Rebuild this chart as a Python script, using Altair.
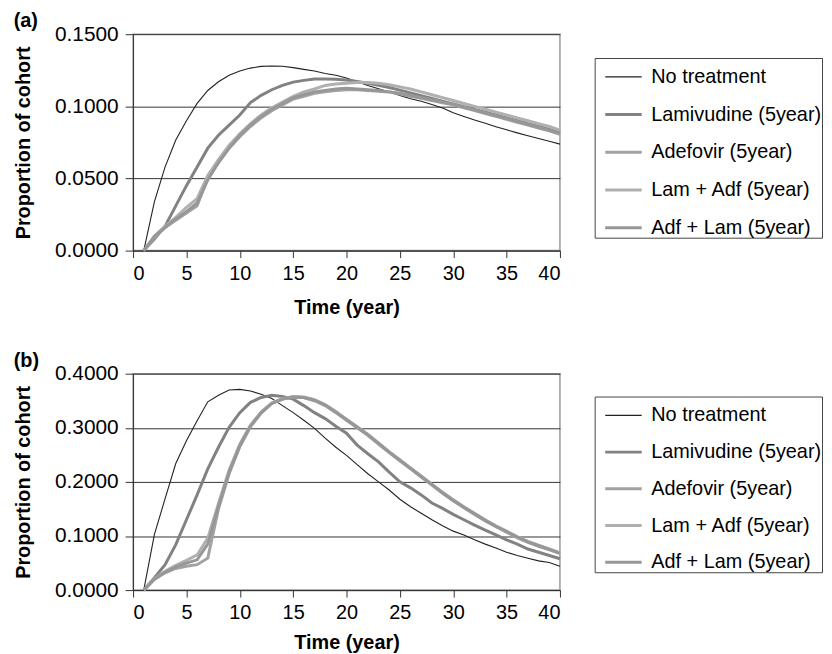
import altair as alt
import pandas as pd

years = list(range(1, 41))
series_names = ["No treatment", "Lamivudine (5year)", "Adefovir (5year)",
                "Lam + Adf (5year)", "Adf + Lam (5year)"]

# Panel (a)
nt_a = [0, 0.034, 0.058, 0.0766, 0.090, 0.102, 0.111, 0.117, 0.1215, 0.1245,
        0.1265, 0.1277, 0.1280, 0.1278, 0.1268, 0.1256, 0.1245, 0.1228, 0.1215, 0.1196,
        0.1170, 0.1145, 0.1122, 0.1099, 0.1076, 0.1053, 0.1035, 0.1012, 0.0989, 0.0955,
        0.0930, 0.0905, 0.0882, 0.0859, 0.0837, 0.0816, 0.0796, 0.0777, 0.0758, 0.0738]
lam_a = [0, 0.008, 0.017, 0.031, 0.045, 0.058, 0.071, 0.080, 0.087, 0.094,
         0.1026, 0.1076, 0.1115, 0.1145, 0.1168, 0.1180, 0.1189, 0.1190, 0.1188, 0.1182,
         0.1172, 0.1160, 0.1146, 0.1130, 0.1112, 0.1093, 0.1074, 0.1055, 0.1036, 0.1017,
         0.0998, 0.0979, 0.0960, 0.0940, 0.0920, 0.0900, 0.0880, 0.0860, 0.0840, 0.0815]
ade_a = [0, 0.009, 0.016, 0.021, 0.026, 0.031, 0.050, 0.061, 0.071, 0.079,
         0.086, 0.092, 0.097, 0.101, 0.105, 0.107, 0.109, 0.110, 0.111, 0.1115,
         0.1115, 0.111, 0.1105, 0.110, 0.1085, 0.107, 0.1055, 0.104, 0.1025, 0.101,
         0.099, 0.097, 0.095, 0.093, 0.091, 0.089, 0.087, 0.085, 0.083, 0.0805]
la_a = [0, 0.010, 0.017, 0.023, 0.030, 0.036, 0.052, 0.063, 0.073, 0.081,
        0.088, 0.094, 0.099, 0.103, 0.107, 0.110, 0.112, 0.1145, 0.1155, 0.116,
        0.1165, 0.1165, 0.116, 0.115, 0.1135, 0.112, 0.110, 0.108, 0.106, 0.104,
        0.102, 0.100, 0.098, 0.096, 0.094, 0.092, 0.090, 0.088, 0.086, 0.0835]
al_a = [0, 0.010, 0.016, 0.022, 0.027, 0.033, 0.049, 0.061, 0.071, 0.080,
        0.087, 0.093, 0.098, 0.102, 0.106, 0.108, 0.110, 0.111, 0.112, 0.1125,
        0.112, 0.1115, 0.111, 0.110, 0.109, 0.1075, 0.106, 0.1045, 0.103, 0.1015,
        0.0995, 0.0975, 0.0955, 0.0935, 0.0915, 0.0895, 0.0875, 0.0855, 0.0835, 0.0815]

# Panel (b)
nt_b = [0, 0.103, 0.169, 0.234, 0.276, 0.313, 0.348, 0.360, 0.370, 0.371,
        0.368, 0.362, 0.354, 0.341, 0.328, 0.314, 0.299, 0.281, 0.264, 0.249,
        0.232, 0.215, 0.200, 0.185, 0.168, 0.154, 0.142, 0.130, 0.119, 0.109,
        0.102, 0.093, 0.085, 0.078, 0.070, 0.064, 0.059, 0.054, 0.051, 0.044]
lam_b = [0, 0.023, 0.047, 0.084, 0.130, 0.176, 0.224, 0.264, 0.301, 0.328,
         0.347, 0.356, 0.360, 0.358, 0.353, 0.341, 0.328, 0.317, 0.303, 0.290,
         0.268, 0.252, 0.237, 0.218, 0.200, 0.189, 0.176, 0.161, 0.151, 0.140,
         0.130, 0.120, 0.111, 0.102, 0.093, 0.085, 0.076, 0.070, 0.064, 0.058]
ade_b = [0, 0.020, 0.032, 0.040, 0.044, 0.047, 0.059, 0.150, 0.215, 0.265,
         0.302, 0.327, 0.345, 0.353, 0.357, 0.356, 0.350, 0.341, 0.328, 0.314,
         0.300, 0.286, 0.270, 0.254, 0.239, 0.224, 0.209, 0.194, 0.179, 0.165,
         0.152, 0.140, 0.128, 0.117, 0.107, 0.097, 0.088, 0.081, 0.075, 0.068]
la_b = [0, 0.021, 0.035, 0.046, 0.055, 0.065, 0.096, 0.160, 0.222, 0.270,
        0.305, 0.329, 0.346, 0.354, 0.358, 0.357, 0.352, 0.343, 0.330, 0.316,
        0.302, 0.288, 0.272, 0.256, 0.241, 0.226, 0.211, 0.196, 0.181, 0.167,
        0.154, 0.142, 0.130, 0.119, 0.109, 0.099, 0.090, 0.083, 0.076, 0.069]
al_b = [0, 0.020, 0.033, 0.043, 0.050, 0.056, 0.085, 0.155, 0.218, 0.267,
        0.303, 0.328, 0.345, 0.353, 0.357, 0.356, 0.351, 0.342, 0.329, 0.315,
        0.301, 0.287, 0.271, 0.255, 0.240, 0.225, 0.210, 0.195, 0.180, 0.166,
        0.153, 0.141, 0.129, 0.118, 0.108, 0.098, 0.089, 0.082, 0.075, 0.068]

colors = ["#222222", "#828282", "#a2a2a2", "#b0b0b0", "#979797"]
widths = [1.1, 3, 3, 3, 3]

FONT = "Liberation Sans"


def make_df(series_list):
    rows = []
    for name, vals in zip(series_names, series_list):
        for y, v in zip(years, vals):
            rows.append({"year": y, "value": v, "series": name})
    return pd.DataFrame(rows)


def panel(df, ymax, ystep, label, lx, ly, title_pad, row_pad):
    yvals = [round(i * ystep, 4) for i in range(int(round(ymax / ystep)) + 1)]
    legend = alt.Legend(title=None, orient="none", legendX=lx, legendY=ly,
                        strokeColor="#444444", padding=0, symbolOffset=9,
                        labelFont=FONT, labelFontSize=20, labelColor="#000000",
                        symbolType="stroke", symbolSize=1350, rowPadding=row_pad,
                        labelOffset=8, labelLimit=300)
    return alt.Chart(df).mark_line().encode(
        x=alt.X("year:Q", title="Time (year)",
                scale=alt.Scale(domain=[0, 40], nice=False),
                axis=alt.Axis(values=list(range(0, 41, 5)), grid=False,
                              titlePadding=title_pad)),
        y=alt.Y("value:Q", title="Proportion of cohort",
                scale=alt.Scale(domain=[0, ymax], nice=False),
                axis=alt.Axis(values=yvals, format=".4f", grid=True)),
        color=alt.Color("series:N", scale=alt.Scale(domain=series_names, range=colors),
                        legend=legend),
        strokeWidth=alt.StrokeWidth("series:N",
                                    scale=alt.Scale(type="ordinal", domain=series_names,
                                                    range=widths),
                                    legend=legend),
        order=alt.Order("year:Q"),
    ).properties(
        width=430, height=218,
        title=alt.Title(label, anchor="start", frame="bounds", fontSize=20,
                        font=FONT, fontWeight="bold", color="#000000", offset=-8)
    )


pa = panel(make_df([nt_a, lam_a, ade_a, la_a, al_a]), 0.15, 0.05, "(a)", 465, 24, 14, 8)
pb = panel(make_df([nt_b, lam_b, ade_b, la_b, al_b]), 0.4, 0.1, "(b)", 465, 23, 10, 7)

chart = alt.vconcat(pa, pb, spacing=32).resolve_scale(
    color="independent", strokeWidth="independent"
).resolve_legend(color="independent", strokeWidth="independent").configure_view(
    stroke="#9a9a9a", strokeWidth=1.5
).configure_axis(
    labelFont=FONT, labelFontSize=20, labelColor="#000000",
    titleFont=FONT, titleFontSize=20, titleFontWeight="bold", titleColor="#000000",
    domainColor="#333333", tickColor="#333333", gridColor="#333333",
    gridWidth=1, tickSize=8, labelPadding=7
).configure_axisX(
    labelPadding=6, tickSize=7
).configure_axisY(
    labelFontSize=21, titlePadding=21
).properties(padding={"left": 5, "top": 0, "right": 0, "bottom": 0})

chart.save("out.html", embed_options={"renderer": "svg", "actions": False})
